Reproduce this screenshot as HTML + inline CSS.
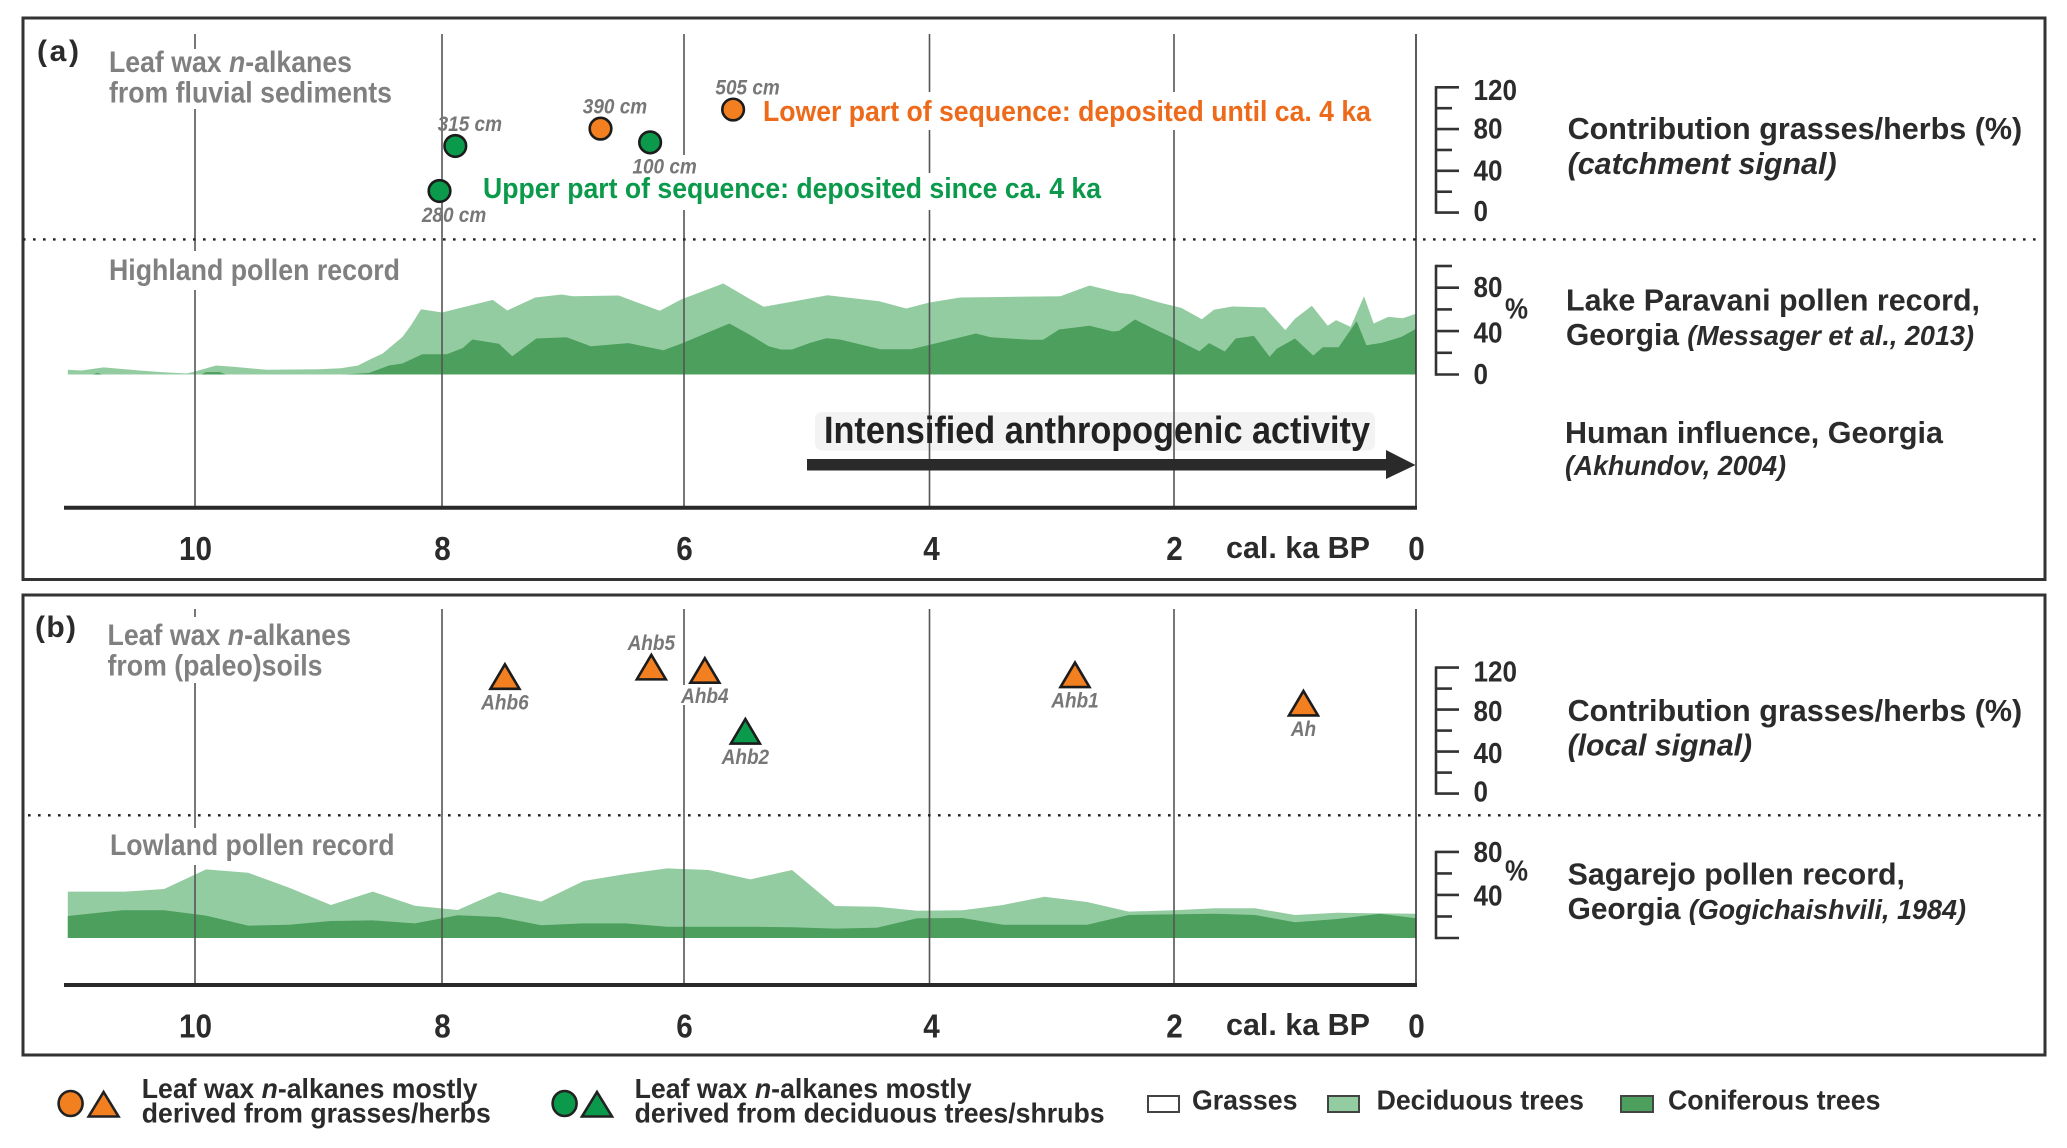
<!DOCTYPE html>
<html lang="en">
<head>
<meta charset="utf-8">
<title>Leaf wax n-alkanes and pollen records, Georgia</title>
<style>
html,body{margin:0;padding:0;background:#fff;}
svg{display:block;}
text{font-family:"Liberation Sans",Arial,sans-serif;font-weight:bold;fill:#2b2b2b;}
.gray{fill:#808080;font-size:30px;}
.small{fill:#777;font-size:21px;font-style:italic;}
.tick{font-size:33px;text-anchor:middle;}
.scale{font-size:29px;}
.desc{font-size:31px;}
.cite{font-size:28px;font-style:italic;}
.leg{font-size:27.5px;}
</style>
</head>
<body>
<svg xmlns="http://www.w3.org/2000/svg" width="2067" height="1148" viewBox="0 0 2067 1148">
  <rect x="0" y="0" width="2067" height="1148" fill="#fff"/>
  <rect x="23" y="18" width="2022" height="561.5" fill="none" stroke="#333" stroke-width="3"/>
  <rect x="23" y="595" width="2022" height="460" fill="none" stroke="#333" stroke-width="3"/>

  <g id="areas"></g>
  <rect x="815" y="412" width="560" height="38.5" rx="7" fill="#f3f3f3"/>
  <g id="grid"></g>

  <g fill="#fff">
    <rect x="100" y="49" width="300" height="60"/>
    <rect x="100" y="251" width="310" height="39"/>
    <rect x="475" y="173" width="635" height="37"/>
    <rect x="630" y="155" width="70" height="20"/>
    <rect x="755" y="92" width="625" height="38"/>
    <rect x="100" y="617" width="300" height="66"/>
    <rect x="100" y="828" width="300" height="37"/>
    <rect x="675" y="685" width="55" height="20"/>
  </g>

  <line x1="23" y1="239.4" x2="2040" y2="239.4" stroke="#222" stroke-width="2.4" stroke-dasharray="2.6 7.4"/>
  <line x1="28" y1="815.3" x2="2042" y2="815.3" stroke="#222" stroke-width="2.4" stroke-dasharray="2.6 7.4"/>

  <line x1="64" y1="507.7" x2="1417" y2="507.7" stroke="#2a2a2a" stroke-width="4"/>
  <line x1="64" y1="985" x2="1417" y2="985" stroke="#2a2a2a" stroke-width="4"/>

  <g>
    <rect x="807" y="459" width="582" height="11.5" fill="#2a2a2a"/>
    <polygon points="1386,450 1415.5,465 1386,479" fill="#2a2a2a"/>
  </g>

  <g id="axes"></g>
  <g id="marks"></g>
  <g id="ticks"></g>

  <!-- Panel a text -->
  <text x="37" y="61" font-size="30" textLength="42" lengthAdjust="spacing">(a)</text>
  <text class="gray" x="109" y="72" textLength="243" lengthAdjust="spacingAndGlyphs">Leaf wax <tspan font-style="italic">n</tspan>-alkanes</text>
  <text class="gray" x="109" y="102.4" textLength="283" lengthAdjust="spacingAndGlyphs">from fluvial sediments</text>
  <text class="gray" x="109" y="280" textLength="291" lengthAdjust="spacingAndGlyphs">Highland pollen record</text>
  <text x="763" y="121" font-size="28.5" style="fill:#ee6a1b" textLength="608" lengthAdjust="spacingAndGlyphs">Lower part of sequence: deposited until ca. 4 ka</text>
  <text x="483" y="198" font-size="28.5" style="fill:#0b9a4b" textLength="618" lengthAdjust="spacingAndGlyphs">Upper part of sequence: deposited since ca. 4 ka</text>
  <text x="824" y="443" font-size="38" style="fill:#222" textLength="546" lengthAdjust="spacingAndGlyphs">Intensified anthropogenic activity</text>
  <text x="1226" y="558" font-size="31" textLength="144" lengthAdjust="spacingAndGlyphs">cal. ka BP</text>

  <text class="desc" x="1567.6" y="139" textLength="454.6" lengthAdjust="spacingAndGlyphs">Contribution grasses/herbs (%)</text>
  <text class="desc" x="1567.6" y="174" font-style="italic" textLength="269" lengthAdjust="spacingAndGlyphs">(catchment signal)</text>
  <text class="desc" x="1566" y="310.5" textLength="414" lengthAdjust="spacingAndGlyphs">Lake Paravani pollen record,</text>
  <text class="desc" x="1566" y="345" textLength="408" lengthAdjust="spacingAndGlyphs">Georgia <tspan font-size="28" font-style="italic">(Messager et al., 2013)</tspan></text>
  <text class="desc" x="1565" y="443" textLength="378" lengthAdjust="spacingAndGlyphs">Human influence, Georgia</text>
  <text class="cite" x="1565" y="475" textLength="221" lengthAdjust="spacingAndGlyphs">(Akhundov, 2004)</text>

  <!-- Panel b text -->
  <text x="35" y="637" font-size="30" textLength="41" lengthAdjust="spacing">(b)</text>
  <text class="gray" x="107.5" y="645" textLength="243.5" lengthAdjust="spacingAndGlyphs">Leaf wax <tspan font-style="italic">n</tspan>-alkanes</text>
  <text class="gray" x="107.5" y="675.4" textLength="215" lengthAdjust="spacingAndGlyphs">from (paleo)soils</text>
  <text class="gray" x="110" y="855" textLength="284.5" lengthAdjust="spacingAndGlyphs">Lowland pollen record</text>
  <text x="1226" y="1035" font-size="31" textLength="144" lengthAdjust="spacingAndGlyphs">cal. ka BP</text>

  <text class="desc" x="1567.6" y="721" textLength="454.6" lengthAdjust="spacingAndGlyphs">Contribution grasses/herbs (%)</text>
  <text class="desc" x="1567.6" y="755.5" font-style="italic" textLength="184.5" lengthAdjust="spacingAndGlyphs">(local signal)</text>
  <text class="desc" x="1567.6" y="884.7" textLength="337.4" lengthAdjust="spacingAndGlyphs">Sagarejo pollen record,</text>
  <text class="desc" x="1567.6" y="919" textLength="398.4" lengthAdjust="spacingAndGlyphs">Georgia <tspan font-size="28" font-style="italic">(Gogichaishvili, 1984)</tspan></text>

  <!-- Legend -->
  <g>
    <g>
      <ellipse cx="70.6" cy="1103.5" rx="12" ry="12.5" fill="#f27f20" stroke="#222" stroke-width="2.6"/>
      <polygon points="103.6,1092 118.5,1116.5 88.7,1116.5" fill="#f27f20" stroke="#222" stroke-width="2.6"/>
      <text class="leg" x="141.8" y="1097.8" textLength="335.8" lengthAdjust="spacingAndGlyphs">Leaf wax <tspan font-style="italic">n</tspan>-alkanes mostly</text>
      <text class="leg" x="141.8" y="1122.7" textLength="349" lengthAdjust="spacingAndGlyphs">derived from grasses/herbs</text>
    </g>
    <g>
      <ellipse cx="564.6" cy="1103.5" rx="12" ry="12.5" fill="#0b9a4b" stroke="#222" stroke-width="2.6"/>
      <polygon points="597,1092 612,1116.5 582,1116.5" fill="#0b9a4b" stroke="#222" stroke-width="2.6"/>
      <text class="leg" x="634.6" y="1097.8" textLength="337" lengthAdjust="spacingAndGlyphs">Leaf wax <tspan font-style="italic">n</tspan>-alkanes mostly</text>
      <text class="leg" x="634.6" y="1122.7" textLength="470" lengthAdjust="spacingAndGlyphs">derived from deciduous trees/shrubs</text>
    </g>
    <g>
      <rect x="1148" y="1096" width="31" height="16" fill="#fff" stroke="#444" stroke-width="2"/>
      <text class="leg" x="1192" y="1109.6" textLength="105.5" lengthAdjust="spacingAndGlyphs">Grasses</text>
    </g>
    <g>
      <rect x="1328" y="1096" width="31" height="16" fill="#94cca2" stroke="#444" stroke-width="2"/>
      <text class="leg" x="1376.6" y="1109.6" textLength="207.4" lengthAdjust="spacingAndGlyphs">Deciduous trees</text>
    </g>
    <g>
      <rect x="1621" y="1096" width="32" height="16" fill="#4c9f5c" stroke="#444" stroke-width="2"/>
      <text class="leg" x="1668" y="1109.6" textLength="212.5" lengthAdjust="spacingAndGlyphs">Coniferous trees</text>
    </g>
  </g>
</svg>

<script>
// ---- Age axis ----
const tickAges = [10, 8, 6, 4, 2, 0];

// ---- Highland (Lake Paravani) pollen, cumulative % ----
const paravaniDeciduousAges = [11.03,10.92,10.74,10.45,10.27,10.07,10.00,9.83,9.69,9.42,9.00,8.82,8.68,8.57,8.48,8.32,8.25,8.17,8.00,7.58,7.46,7.23,7.01,6.92,6.54,6.20,6.02,5.68,5.46,5.35,4.83,4.41,4.19,4.00,3.75,2.93,2.69,2.45,2.34,2.12,1.94,1.77,1.67,1.52,1.25,1.08,1.00,0.86,0.73,0.66,0.54,0.43,0.35,0.23,0.11,0];
const paravaniDeciduousValues = [4.3,3.7,6.5,3.7,2.2,0.9,2.8,8.3,7.1,4.3,4.9,5.8,8.3,14.7,19.4,34.7,45.5,60.2,57.1,68.8,59,71,73.7,72.2,72.8,58.7,69.4,83.9,69.4,62.4,73.1,67.6,60.8,66.4,71,72.2,82,75.3,73.7,66.4,61.4,51,59.6,62.7,61.8,40.9,51.3,63.3,44.9,50.1,43.9,72.2,47,53.1,51.9,55.9];
const paravaniConiferousAges = [10.83,10.79,10.75,9.95,9.91,9.80,9.75,8.79,8.59,8.43,8.32,8.16,7.96,7.83,7.75,7.53,7.42,7.22,6.97,6.77,6.46,6.17,6.02,5.63,5.46,5.31,5.21,5.12,4.97,4.84,4.73,4.40,4.15,4.00,3.62,3.50,3.18,3.07,2.94,2.69,2.50,2.45,2.32,2.14,2.00,1.79,1.71,1.58,1.49,1.34,1.21,1.15,1.00,0.85,0.77,0.64,0.49,0.41,0.28,0.12,0];
const paravaniConiferousValues = [0,1.5,0,0,2.2,2.2,0,0,1.5,8.3,10.1,18.7,18.7,24.3,32.3,28.3,16.9,33.2,34.4,26.1,28.9,22.4,28.6,47,36.3,26.1,23,23,29.2,33.5,32.3,23.3,23.3,27.3,37.8,34.4,32,32,41.5,44.9,39.6,40.2,50.7,40.6,33.5,21.5,28.9,21.2,33.2,35.6,16.3,23.7,33.2,17.5,25.2,25.2,49.2,27,29.2,34.7,42.1];

// ---- Lowland (Sagarejo) pollen, cumulative % ----
const sagarejoDeciduousAges = [11.03,10.57,10.25,9.91,9.57,9.24,8.90,8.56,8.22,7.87,7.53,7.18,6.83,6.48,6.14,5.80,5.46,5.12,4.77,4.43,4.10,3.73,3.40,3.06,2.71,2.37,2.00,1.66,1.33,1.00,0.65,0.30,0];
const sagarejoDeciduousValues = [43.1,43.1,45.5,63.8,60.7,46.8,30.7,43.1,30,26,42.8,33.8,53,59.5,64.7,63.2,54.5,63.2,29.7,29.1,25.4,25.7,30.7,38.4,33.5,24.5,25.7,27.6,27.6,21.4,23.5,22.9,22.6];
const sagarejoConiferousAges = [11.03,10.59,10.25,9.91,9.57,9.24,8.90,8.56,8.22,7.87,7.53,7.18,6.83,6.48,6.14,5.46,5.12,4.77,4.43,4.10,3.73,3.40,2.71,2.37,1.66,1.33,1.00,0.65,0.30,0];
const sagarejoConiferousValues = [20.4,25.7,25.7,20.8,11.5,12.4,15.8,16.4,13.6,21.1,19.5,11.8,13.6,13.6,10.5,10.5,9.9,8.7,9.6,18.3,18.6,12.4,12.4,21.4,22.6,21.4,14.6,17.7,22.6,18.3];

// ---- Leaf wax samples, % grasses/herbs ----
const sedimentLabels = ['315 cm','280 cm','390 cm','100 cm','505 cm'];
const sedimentAges = [7.89,8.02,6.69,6.28,5.60];
const sedimentValues = [63.8,20.7,80.4,67.3,98.7];
const sedimentSources = ['trees','trees','grasses','trees','grasses'];

const soilLabels = ['Ahb6','Ahb5','Ahb4','Ahb2','Ahb1','Ah'];
const soilAges = [7.48,6.27,5.83,5.50,2.81,0.93];
const soilValues = [111.7,120.7,117.5,59.6,113.4,86.3];
const soilSources = ['grasses','grasses','grasses','trees','grasses','grasses'];

// ---- Value-axis tick labels ----
const leafWaxTicks = [0,20,40,60,80,100,120];
const leafWaxTickLabels = ['0','','40','','80','','120'];
const paravaniTicks = [0,20,40,60,80,100];
const paravaniTickLabels = ['0','','40','','80',''];
const sagarejoTicks = [0,20,40,60,80];
const sagarejoTickLabels = ['','','40','','80'];

// ---- Scales ----
function xAge(age) {
  // The published time axis is very slightly non-uniform between its tick marks.
  const range = [1416, 1174, 929.5, 684, 442, 195];
  const i = Math.max(0, Math.min(4, Math.floor(age / 2)));
  return range[i] + (age - i * 2) / 2 * (range[i + 1] - range[i]);
}
const yParavani = v => 374.5 - 1.085 * v;
const ySagarejo = v => 938 - 1.076 * v;
const yCatchment = v => 212.6 - 1.044 * v;
const yLocal = v => 793.6 - 1.05 * v;

const NS = 'http://www.w3.org/2000/svg';
function make(parent, tag, attrs, txt) {
  const el = document.createElementNS(NS, tag);
  for (const k in attrs) el.setAttribute(k, attrs[k]);
  if (txt !== undefined) el.textContent = txt;
  parent.appendChild(el);
  return el;
}
const colors = { grasses: '#f27f20', trees: '#0b9a4b' };

// ---- Areas ----
const areasG = document.getElementById('areas');
function area(name, ages, values, yScale, fill) {
  const base = yScale(0);
  const pts = [xAge(ages[0]).toFixed(1) + ',' + base];
  ages.forEach((a, i) => pts.push(xAge(a).toFixed(1) + ',' + yScale(values[i]).toFixed(1)));
  pts.push(xAge(ages[ages.length - 1]).toFixed(1) + ',' + base);
  const el = make(areasG, 'polygon', { points: pts.join(' '), fill: fill });
  
  
}
area('paravani-deciduous-area', paravaniDeciduousAges, paravaniDeciduousValues, yParavani, '#94cca2');
area('paravani-coniferous-area', paravaniConiferousAges, paravaniConiferousValues, yParavani, '#4c9f5c');
area('sagarejo-deciduous-area', sagarejoDeciduousAges, sagarejoDeciduousValues, ySagarejo, '#94cca2');
area('sagarejo-coniferous-area', sagarejoConiferousAges, sagarejoConiferousValues, ySagarejo, '#4c9f5c');

// ---- Gridlines and age ticks ----
const gridG = document.getElementById('grid');
const ticksG = document.getElementById('ticks');
function ageAxis(panel, top, bottom, labelY) {
  tickAges.forEach(age => {
    const x = xAge(age);
    const line = make(gridG, 'line', { x1: x, x2: x, y1: top, y2: bottom, stroke: age === 0 ? '#333' : '#555', 'stroke-width': 1.6 });
    
    
    const label = make(ticksG, 'text', { x: x + (age === 4 ? 2 : 0.5), y: labelY, class: 'tick', textLength: String(age).length * 16.5, lengthAdjust: 'spacingAndGlyphs' }, String(age));
    
    
  });
}
ageAxis('panel-a', 34, 507, 560);
ageAxis('panel-b', 609, 985, 1037.5);

// ---- Value axes ----
const axesG = document.getElementById('axes');
function valueAxis(name, ticks, labels, yScale, labelShift) {
  const ys = ticks.map(yScale);
  const spine = make(axesG, 'line', { x1: 1436, x2: 1436, y1: Math.max(...ys) + 1.2, y2: Math.min(...ys) - 1.2, stroke: '#333', 'stroke-width': 2.6 });
  
  
  ticks.forEach((t, i) => {
    const major = t % 40 === 0;
    const tick = make(axesG, 'line', { x1: 1436, x2: major ? 1459 : 1452, y1: yScale(t), y2: yScale(t), stroke: '#333', 'stroke-width': 2.6 });
    
    
    if (labels[i]) {
      const lab = make(axesG, 'text', { x: 1473.5, y: yScale(t) + labelShift(t), class: 'scale', textLength: labels[i].length * 14.5, lengthAdjust: 'spacingAndGlyphs' }, labels[i]);
      
      
    }
  });
}
valueAxis('catchment-axis', leafWaxTicks, leafWaxTickLabels, yCatchment, t => t === 120 ? 12.5 : (t === 0 ? 8.5 : 9.5));
valueAxis('paravani-axis', paravaniTicks, paravaniTickLabels, yParavani, t => t === 40 ? 11.5 : 9.5);
valueAxis('local-axis', leafWaxTicks, leafWaxTickLabels, yLocal, t => t === 120 ? 14 : (t === 0 ? 8 : 11.5));
valueAxis('sagarejo-axis', sagarejoTicks, sagarejoTickLabels, ySagarejo, t => t === 40 ? 10.5 : 10);

const pct1 = make(axesG, 'text', { x: 1505, y: 318.5, class: 'scale', textLength: 23, lengthAdjust: 'spacingAndGlyphs' }, '%');


const pct2 = make(axesG, 'text', { x: 1505, y: 880.5, class: 'scale', textLength: 23, lengthAdjust: 'spacingAndGlyphs' }, '%');



// ---- Markers ----
const marksG = document.getElementById('marks');
sedimentLabels.forEach((label, i) => {
  const x = xAge(sedimentAges[i]);
  const y = yCatchment(sedimentValues[i]);
  const dot = make(marksG, 'circle', { cx: x, cy: y, r: 10.8, fill: colors[sedimentSources[i]], stroke: '#1c1c1c', 'stroke-width': 2.6 });
  
  
  const below = label === '280 cm' || label === '100 cm';
  const txt = make(marksG, 'text', { x: x + 14.5, y: y + (below ? 31 : -15), class: 'small', 'text-anchor': 'middle', textLength: 64.4, lengthAdjust: 'spacingAndGlyphs' }, label);
  
  
});
soilLabels.forEach((label, i) => {
  const x = xAge(soilAges[i]);
  const y = yLocal(soilValues[i]);
  const tri = make(marksG, 'polygon', {
    points: x + ',' + (y - 12) + ' ' + (x + 14.5) + ',' + (y + 12.5) + ' ' + (x - 14.5) + ',' + (y + 12.5),
    fill: colors[soilSources[i]], stroke: '#1c1c1c', 'stroke-width': 2.6
  });
  
  
  const txt = make(marksG, 'text', { x: x, y: y + (label === 'Ahb5' ? -17 : 33), class: 'small', 'text-anchor': 'middle', textLength: label.length === 2 ? 25.3 : 47.5, lengthAdjust: 'spacingAndGlyphs' }, label);
  
  
});
</script>
</body>
</html>
